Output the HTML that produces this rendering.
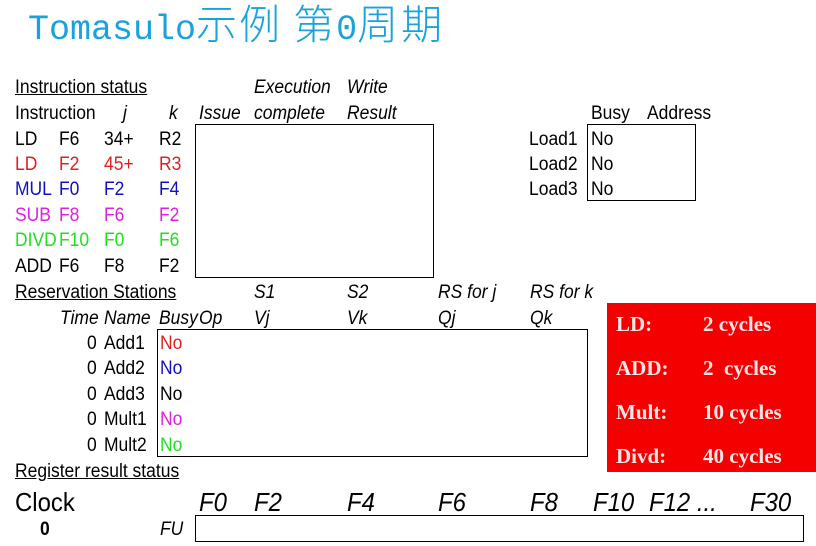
<!DOCTYPE html>
<html><head><meta charset="utf-8"><style>
body{margin:0;width:816px;height:546px;background:#fff;position:relative;overflow:hidden;font-family:"Liberation Sans",sans-serif;}
.t{position:absolute;font-size:19px;line-height:20px;margin-top:2px;white-space:nowrap;transform:scaleX(0.92);transform-origin:left center;color:#000}
.i{font-style:italic}
.u{text-decoration:underline}
.box{position:absolute;border:1.5px solid #000;box-sizing:border-box}
.r{color:#e02020}.b{color:#1010c0}.m{color:#e020e0}.g{color:#20e020}
.red{position:absolute;left:607px;top:303px;width:209px;height:169px;background:#f40000}
.rt{position:absolute;font-family:"Liberation Serif",serif;font-weight:bold;font-size:21px;color:#fde4e4;white-space:nowrap}
</style></head><body>
<div style="position:absolute;left:28px;top:-1px;font-family:'Liberation Mono',monospace;font-size:35px;color:#1aa2dc;white-space:nowrap;line-height:44px">Tomasulo<span style="font-family:'Noto Sans CJK SC',sans-serif;font-size:41px;font-weight:300;letter-spacing:2px">示例 第</span>0<span style="font-family:'Noto Sans CJK SC',sans-serif;font-size:41px;font-weight:300;letter-spacing:3px">周期</span></div>

<div class="t u" style="left:15px;top:76px">Instruction status</div>
<div class="t i" style="left:254px;top:76px">Execution</div>
<div class="t i" style="left:347px;top:76px">Write</div>
<div class="t" style="left:15px;top:102px;width:95px;overflow:hidden">Instruction</div>
<div class="t i" style="left:123px;top:102px">j</div>
<div class="t i" style="left:169px;top:102px">k</div>
<div class="t i" style="left:199px;top:102px">Issue</div>
<div class="t i" style="left:254px;top:102px">complete</div>
<div class="t i" style="left:347px;top:102px">Result</div>
<div class="t" style="left:591px;top:102px">Busy</div>
<div class="t" style="left:647px;top:102px">Address</div>

<div class="t" style="left:15px;top:128px">LD</div><div class="t" style="left:59px;top:128px">F6</div><div class="t" style="left:104px;top:128px">34+</div><div class="t" style="left:159px;top:128px">R2</div>
<div class="t r" style="left:15px;top:153px">LD</div><div class="t r" style="left:59px;top:153px">F2</div><div class="t r" style="left:104px;top:153px">45+</div><div class="t r" style="left:159px;top:153px">R3</div>
<div class="t b" style="left:15px;top:178px">MUL</div><div class="t b" style="left:59px;top:178px">F0</div><div class="t b" style="left:104px;top:178px">F2</div><div class="t b" style="left:159px;top:178px">F4</div>
<div class="t m" style="left:15px;top:204px">SUB</div><div class="t m" style="left:59px;top:204px">F8</div><div class="t m" style="left:104px;top:204px">F6</div><div class="t m" style="left:159px;top:204px">F2</div>
<div class="t g" style="left:15px;top:229px;width:46px;overflow:hidden">DIVD</div><div class="t g" style="left:59px;top:229px">F10</div><div class="t g" style="left:104px;top:229px">F0</div><div class="t g" style="left:159px;top:229px">F6</div>
<div class="t" style="left:15px;top:255px">ADD</div><div class="t" style="left:59px;top:255px">F6</div><div class="t" style="left:104px;top:255px">F8</div><div class="t" style="left:159px;top:255px">F2</div>
<div class="box" style="left:195px;top:124px;width:239px;height:154px"></div>

<div class="t" style="left:529px;top:128px">Load1</div><div class="t" style="left:591px;top:128px">No</div>
<div class="t" style="left:529px;top:153px">Load2</div><div class="t" style="left:591px;top:153px">No</div>
<div class="t" style="left:529px;top:178px">Load3</div><div class="t" style="left:591px;top:178px">No</div>
<div class="box" style="left:587px;top:124px;width:109px;height:77px"></div>

<div class="t u" style="left:15px;top:281px">Reservation Stations</div>
<div class="t i" style="left:254px;top:281px">S1</div>
<div class="t i" style="left:347px;top:281px">S2</div>
<div class="t i" style="left:438px;top:281px">RS for j</div>
<div class="t i" style="left:530px;top:281px">RS for k</div>
<div class="t i" style="left:60px;top:307px">Time</div>
<div class="t i" style="left:104px;top:307px">Name</div>
<div class="t i" style="left:159px;top:307px;width:43px;overflow:hidden">Busy</div>
<div class="t i" style="left:199px;top:307px">Op</div>
<div class="t i" style="left:254px;top:307px">Vj</div>
<div class="t i" style="left:347px;top:307px">Vk</div>
<div class="t i" style="left:438px;top:307px">Qj</div>
<div class="t i" style="left:530px;top:307px">Qk</div>

<div class="t" style="left:87px;top:332px">0</div><div class="t" style="left:104px;top:332px">Add1</div><div class="t r" style="left:160px;top:332px">No</div>
<div class="t" style="left:87px;top:357px">0</div><div class="t" style="left:104px;top:357px">Add2</div><div class="t b" style="left:160px;top:357px">No</div>
<div class="t" style="left:87px;top:383px">0</div><div class="t" style="left:104px;top:383px">Add3</div><div class="t" style="left:160px;top:383px">No</div>
<div class="t" style="left:87px;top:408px">0</div><div class="t" style="left:104px;top:408px">Mult1</div><div class="t m" style="left:160px;top:408px">No</div>
<div class="t" style="left:87px;top:434px">0</div><div class="t" style="left:104px;top:434px">Mult2</div><div class="t g" style="left:160px;top:434px">No</div>
<div class="box" style="left:157px;top:329px;width:431px;height:128px"></div>

<div class="t u" style="left:15px;top:460px">Register result status</div>
<div class="t" style="left:15px;top:486px;font-size:26px;line-height:28px">Clock</div>
<div class="t i" style="left:199px;top:486px;font-size:26px;line-height:28px">F0</div>
<div class="t i" style="left:254px;top:486px;font-size:26px;line-height:28px">F2</div>
<div class="t i" style="left:347px;top:486px;font-size:26px;line-height:28px">F4</div>
<div class="t i" style="left:438px;top:486px;font-size:26px;line-height:28px">F6</div>
<div class="t i" style="left:530px;top:486px;font-size:26px;line-height:28px">F8</div>
<div class="t i" style="left:593px;top:486px;font-size:26px;line-height:28px">F10</div>
<div class="t i" style="left:649px;top:486px;font-size:26px;line-height:28px">F12 ...</div>
<div class="t i" style="left:750px;top:486px;font-size:26px;line-height:28px">F30</div>
<div class="t" style="left:40px;top:518px;font-weight:bold">0</div>
<div class="t i" style="left:160px;top:518px">FU</div>
<div class="box" style="left:195px;top:515px;width:609px;height:27px"></div>

<div class="red">
<div class="rt" style="left:9px;top:9px">LD:</div><div class="rt" style="left:96px;top:9px">2 cycles</div>
<div class="rt" style="left:9px;top:53px">ADD:</div><div class="rt" style="left:96px;top:53px">2&nbsp; cycles</div>
<div class="rt" style="left:9px;top:97px">Mult:</div><div class="rt" style="left:96px;top:97px">10 cycles</div>
<div class="rt" style="left:9px;top:141px">Divd:</div><div class="rt" style="left:96px;top:141px">40 cycles</div>
</div>
</body></html>
